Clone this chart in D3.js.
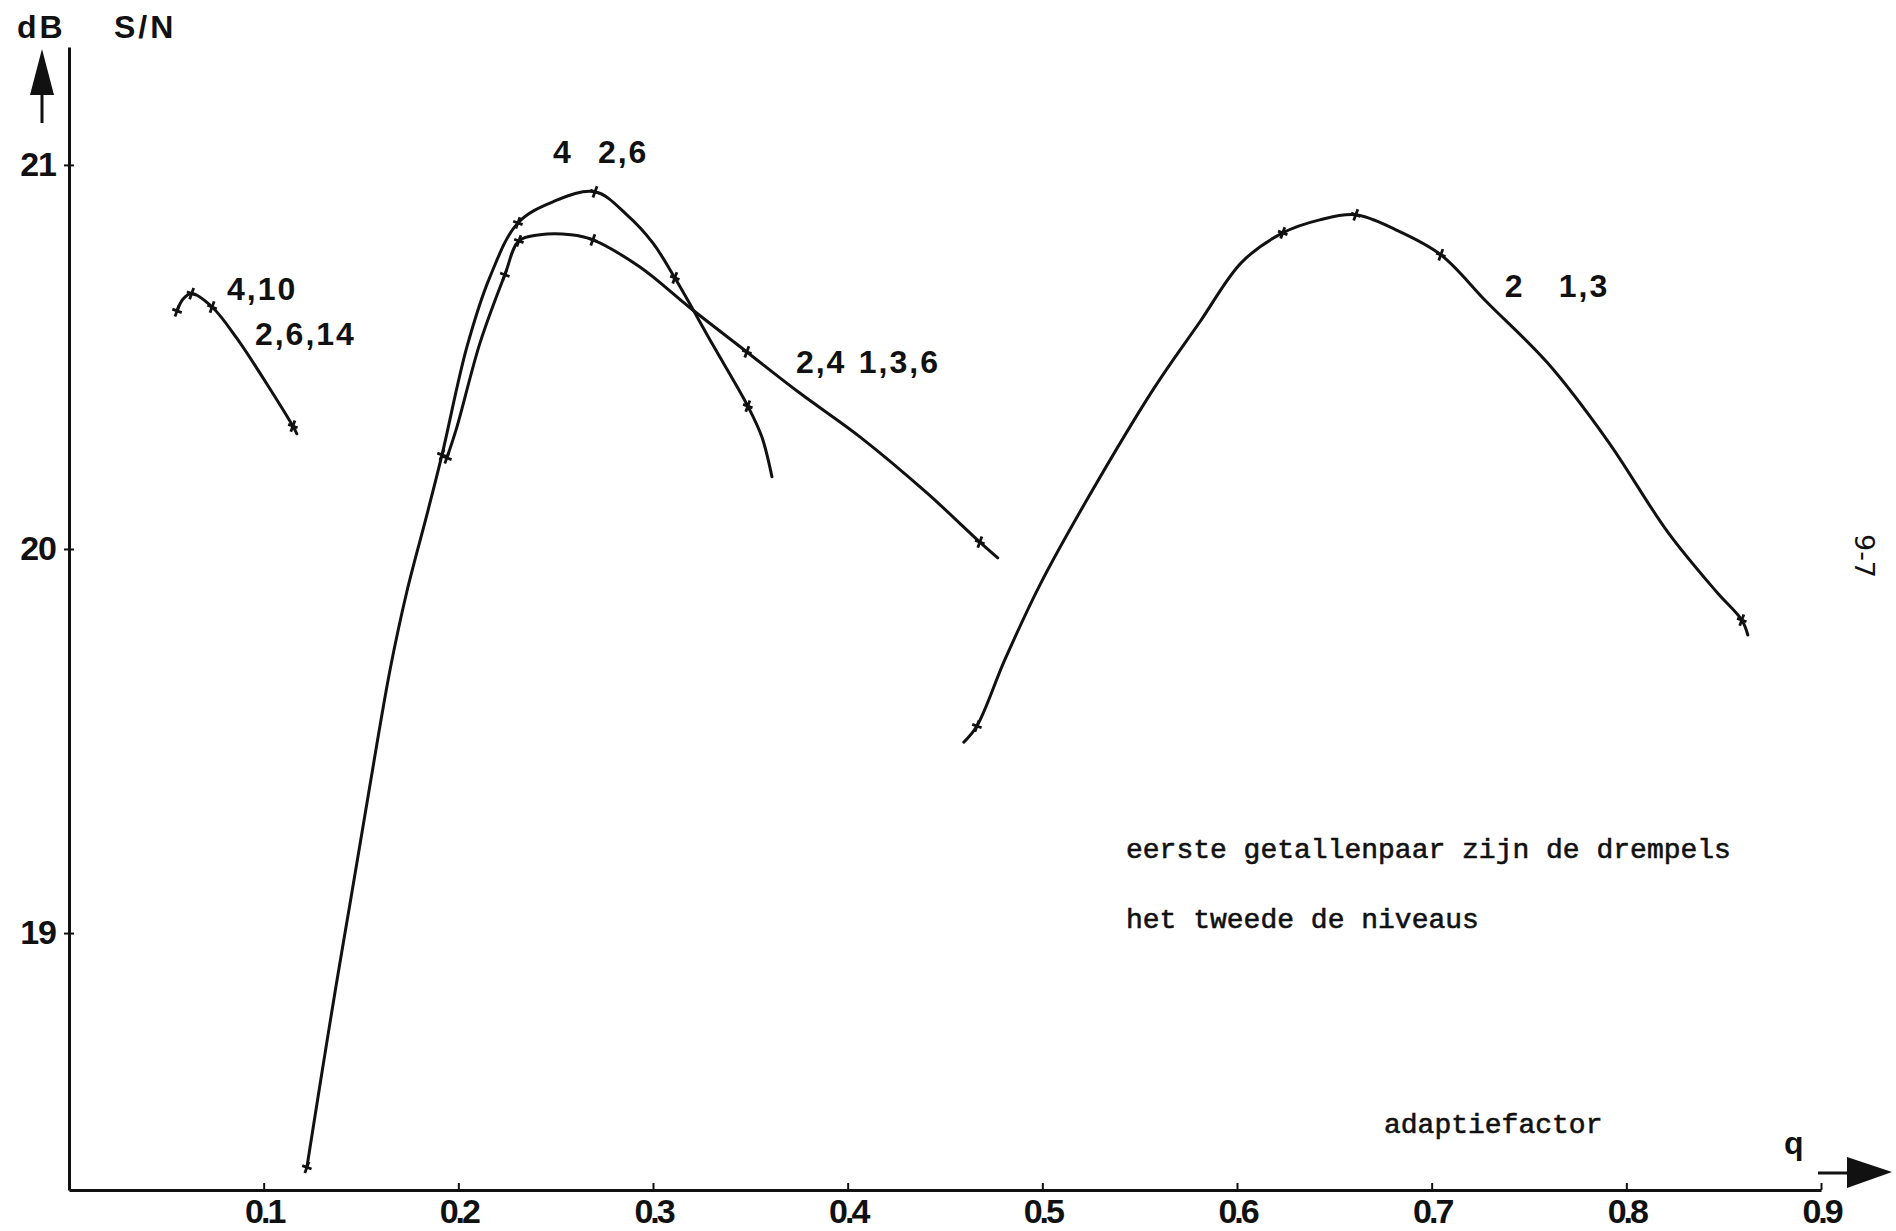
<!DOCTYPE html>
<html>
<head>
<meta charset="utf-8">
<script src="https://cdn.jsdelivr.net/npm/d3@7"></script>
<style>
  body { margin: 0; background: #fff; }
  .curve { fill: none; stroke: #111; stroke-width: 3; stroke-linecap: round; }
  .mark { fill: none; stroke: #111; stroke-width: 2.8; }
  .lbl { font-family: 'Liberation Sans', Arial, sans-serif; font-weight: bold; font-size: 32px; letter-spacing: 2px; fill: #111; }
  .typed { font-family: 'Liberation Mono', 'DejaVu Sans Mono', monospace; font-size: 28px; fill: #111; stroke: #111; stroke-width: 0.6; }
</style>
</head>
<body>
<svg id="chart"></svg>
<script>
// tick values / labels
const qTicks = [0.1, 0.2, 0.3, 0.4, 0.5, 0.6, 0.7, 0.8, 0.9];
const qTickLabels = ['0.1', '0.2', '0.3', '0.4', '0.5', '0.6', '0.7', '0.8', '0.9'];
const dbTicks = [19, 20, 21];

// q (adaptiefactor), S/N in dB
const curve410 = [[0.0555, 20.62], [0.0585, 20.65], [0.063, 20.665], [0.0735, 20.63], [0.086, 20.55], [0.115, 20.32], [0.117, 20.30]];
const marks410 = [[0.0555, 20.62], [0.063, 20.665], [0.0735, 20.63], [0.115, 20.32]];

const curve4 = [[0.1222, 18.39], [0.1294, 18.62], [0.1371, 18.86], [0.1448, 19.09], [0.1541, 19.37], [0.1649, 19.685],
  [0.1736, 19.89], [0.1839, 20.09], [0.1916, 20.245], [0.2044, 20.526], [0.2162, 20.708], [0.2306, 20.849],
  [0.2486, 20.904], [0.2702, 20.93], [0.2866, 20.87], [0.2999, 20.797], [0.3112, 20.706], [0.3308, 20.531],
  [0.3487, 20.372], [0.3559, 20.292], [0.3611, 20.188]];
const marks4 = [[0.1222, 18.39], [0.1916, 20.245], [0.2306, 20.849], [0.2702, 20.93], [0.3112, 20.706], [0.3487, 20.372]];

const curve24 = [[0.1941, 20.237], [0.1993, 20.318], [0.2111, 20.536], [0.2239, 20.714], [0.2311, 20.802], [0.2419, 20.818],
  [0.2578, 20.818], [0.2691, 20.805], [0.2933, 20.734], [0.319, 20.628], [0.3482, 20.513], [0.3754, 20.406],
  [0.4063, 20.292], [0.4407, 20.146], [0.4679, 20.018], [0.4771, 19.977]];
const marks24 = [[0.1941, 20.237], [0.2239, 20.714], [0.2311, 20.802], [0.2691, 20.805], [0.3482, 20.513], [0.4679, 20.018]];

const curve2 = [[0.4597, 19.497], [0.4664, 19.539], [0.4807, 19.711], [0.4987, 19.906], [0.5229, 20.128], [0.5578, 20.422],
  [0.5809, 20.591], [0.6025, 20.747], [0.6235, 20.823], [0.6425, 20.857], [0.661, 20.87], [0.6816, 20.831],
  [0.7047, 20.766], [0.7283, 20.643], [0.7596, 20.484], [0.7905, 20.281], [0.8213, 20.044], [0.8464, 19.888],
  [0.8593, 19.815], [0.8624, 19.776]];
const marks2 = [[0.4664, 19.539], [0.6235, 20.823], [0.661, 20.87], [0.7047, 20.766], [0.8593, 19.815]];

// curve labels: drempels / niveaus, placed at (q, dB)
const curveLabels = [
  { text: '4,10', q: 0.0812, db: 20.648 },
  { text: '2,6,14', q: 0.0955, db: 20.531 },
  { text: '4', q: 0.2486, db: 21.005 },
  { text: '2,6', q: 0.2717, db: 21.005 },
  { text: '2,4', q: 0.3734, db: 20.458 },
  { text: '1,3,6', q: 0.4057, db: 20.458 },
  { text: '2', q: 0.7375, db: 20.656 },
  { text: '1,3', q: 0.7653, db: 20.656 }
];

const W = 1896, H = 1231;

const svg = d3.select('#chart')
    .attr('width', W)
    .attr('height', H);

const x = d3.scaleLinear()
    .domain([0, 0.9])
    .range([69, 1821]);

const y = d3.scaleLinear()
    .domain([18.331, 21.307])
    .range([1190, 47]);

// x axis, ticks point up into the plot
const xAxis = d3.axisBottom(x)
    .tickValues(qTicks)
    .tickFormat((d, i) => qTickLabels[i])
    .tickSizeInner(-7)
    .tickSizeOuter(0)
    .tickPadding(9);

const xAxisG = svg.append('g')
    .attr('transform', 'translate(0,1190)')
    .call(xAxis);
xAxisG.select('.domain').attr('stroke', '#111').attr('stroke-width', 3);
xAxisG.selectAll('.tick line').attr('stroke', '#111').attr('stroke-width', 2);
xAxisG.selectAll('.tick text')
    .attr('fill', '#111')
    .style('font-family', "'Liberation Sans', Arial, sans-serif")
    .style('font-weight', 'bold')
    .style('font-size', '34px')
    .style('letter-spacing', '-3px');

// y axis
const yAxis = d3.axisLeft(y)
    .tickValues(dbTicks)
    .tickFormat(d3.format('d'))
    .tickSizeInner(5)
    .tickSizeOuter(0)
    .tickPadding(8);

const yAxisG = svg.append('g')
    .attr('transform', 'translate(69,0)')
    .call(yAxis);
yAxisG.select('.domain').attr('stroke', '#111').attr('stroke-width', 3);
yAxisG.selectAll('.tick line').attr('stroke', '#111').attr('stroke-width', 2);
yAxisG.selectAll('.tick text')
    .attr('fill', '#111')
    .style('font-family', "'Liberation Sans', Arial, sans-serif")
    .style('font-weight', 'bold')
    .style('font-size', '34px')
    .style('letter-spacing', '-1px');

// little ticks on the inside too
const yAxisIn = d3.axisLeft(y).tickValues(dbTicks).tickSize(-5).tickFormat('');
svg.append('g')
    .attr('transform', 'translate(69,0)')
    .call(yAxisIn)
    .call(g => g.select('.domain').remove())
    .selectAll('.tick line').attr('stroke', '#111').attr('stroke-width', 2);

// axis arrows and titles
svg.append('path')
    .attr('d', 'M42,123V90')
    .attr('stroke', '#111').attr('stroke-width', 3);
svg.append('path')
    .attr('d', 'M30,95L42,49L54,95Z')
    .attr('fill', '#111');
svg.append('path')
    .attr('d', 'M1818,1173H1850')
    .attr('stroke', '#111').attr('stroke-width', 3);
svg.append('path')
    .attr('d', 'M1847,1157L1892,1172L1847,1188Z')
    .attr('fill', '#111');

svg.append('text').attr('class', 'lbl')
    .attr('x', 17).attr('y', 38)
    .style('font-size', '32px').style('letter-spacing', '3px')
    .text('dB');
svg.append('text').attr('class', 'lbl')
    .attr('x', 114).attr('y', 38)
    .style('font-size', '32px').style('letter-spacing', '3px')
    .text('S/N');
svg.append('text').attr('class', 'lbl')
    .attr('x', 1784).attr('y', 1154)
    .style('font-size', '32px')
    .text('q');

// curves
const line = d3.line()
    .x(d => x(d[0]))
    .y(d => y(d[1]))
    .curve(d3.curveCatmullRom.alpha(0.5));

const series = [
  { pts: curve410, marks: marks410 },
  { pts: curve4, marks: marks4 },
  { pts: curve24, marks: marks24 },
  { pts: curve2, marks: marks2 }
];

series.forEach(s => {
  svg.append('path')
      .datum(s.pts)
      .attr('class', 'curve')
      .attr('d', line);

  svg.selectAll(null)
      .data(s.marks)
      .join('path')
      .attr('class', 'mark')
      .attr('transform', d => `translate(${x(d[0])},${y(d[1])}) rotate(20)`)
      .attr('d', 'M-5,0H5M0,-6V6');
});

svg.selectAll('.curve-label')
    .data(curveLabels)
    .join('text')
    .attr('class', 'lbl curve-label')
    .attr('x', d => x(d.q))
    .attr('y', d => y(d.db))
    .text(d => d.text);

// typed notes
svg.append('text').attr('class', 'typed')
    .attr('x', 1126).attr('y', 858)
    .text('eerste getallenpaar zijn de drempels');
svg.append('text').attr('class', 'typed')
    .attr('x', 1126).attr('y', 928)
    .text('het tweede de niveaus');
svg.append('text').attr('class', 'typed')
    .attr('x', 1384).attr('y', 1133)
    .text('adaptiefactor');

// page number in the margin
svg.append('text')
    .attr('transform', 'translate(1855,556) rotate(90)')
    .attr('text-anchor', 'middle')
    .style('font-family', "'DejaVu Sans', sans-serif")
    .style('font-size', '27px')
    .attr('fill', '#111')
    .text('9-7');
</script>
</body>
</html>
